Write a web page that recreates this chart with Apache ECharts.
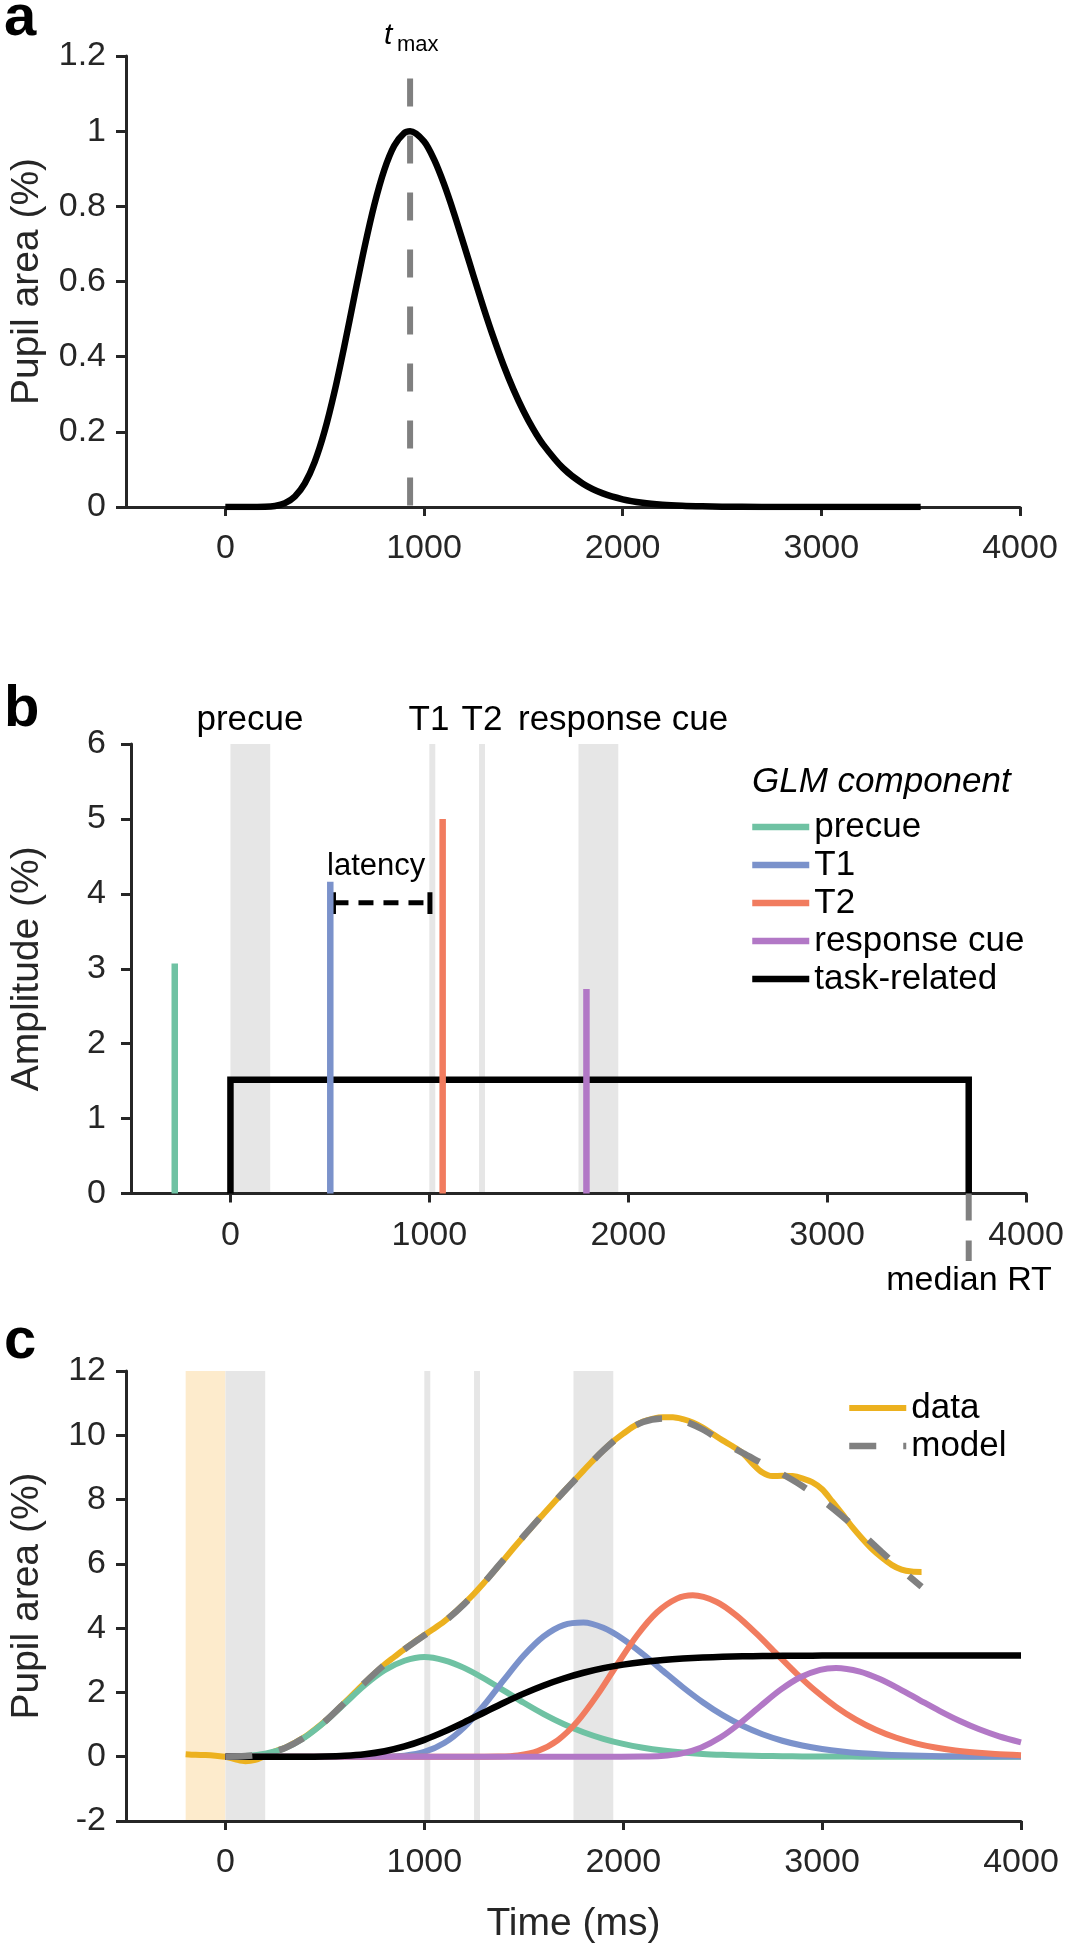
<!DOCTYPE html>
<html>
<head>
<meta charset="utf-8">
<script src="https://cdn.jsdelivr.net/npm/echarts@6.0.0/dist/echarts.min.js"></script>
<style>
    html, body { margin: 0; padding: 0; background: #fff; }
    #chart { width: 1073px; height: 1950px; }
</style>
</head>
<body>
<div id="chart"></div>
<script>
const FONT = '"Liberation Sans", Arial, Helvetica, sans-serif';
const INK = '#262626';

// ---- shared axis ticks (ms)
const timeTicks = [0, 1000, 2000, 3000, 4000];

// ---- panel a: pupil response function
const hrfTime = [0, 100, 200, 250, 300, 350, 400, 450, 500, 550, 600, 650, 700, 750, 800, 850, 900, 930, 1000, 1050,
    1100, 1150, 1200, 1250, 1300, 1350, 1400, 1450, 1500, 1550, 1600, 1700, 1800, 1900, 2000, 2100, 2200, 2300, 2400, 2500,
    2700, 3000, 3500];
const hrfValue = [0, 0, 0.0005, 0.0028, 0.0102, 0.0281, 0.063, 0.1202, 0.2023, 0.3078, 0.4307, 0.5615, 0.6896, 0.8043, 0.8967, 0.9611, 0.9946, 1, 0.9731, 0.9254,
    0.8602, 0.7832, 0.6992, 0.6137, 0.5297, 0.4506, 0.3779, 0.313, 0.2562, 0.2072, 0.166, 0.1033, 0.0621, 0.0362, 0.0205, 0.0113, 0.0061, 0.0032, 0.0017, 0.0009,
    0.0002, 0, 0];
const tMax = 930;
const tMaxLineTop = 1.14;

// ---- panel b: GLM regressors
const eventName = ['precue', 'T1', 'T2', 'response cue'];
const eventTime = [-280, 502, 1067, 1790];
const eventAmp = [3.07, 4.16, 5.0, 2.73];
const taskOnset = 0;
const medianRT = 3712;
const taskAmp = 1.52;
const latencyFrom = 518;
const latencyTo = 1003;
const latencyLevel = 3.88;

// stimulus windows (ms)
const windowStart = [0, 1000, 1250, 1750];
const windowEnd = [200, 1030, 1280, 1950];
const baselineStart = -200;
const baselineEnd = 0;

// ---- panel c: components, model and data
const compTime = [0, 100, 200, 300, 400, 500, 600, 700, 800, 900, 1000, 1100, 1200, 1300, 1400, 1500, 1600, 1700, 1800, 1900,
    2000, 2100, 2200, 2300, 2400, 2500, 2600, 2700, 2800, 2900, 3000, 3100, 3200, 3300, 3400, 3500, 3600, 3700, 3800, 3900, 4000];
const precueComp = [0.002, 0.021, 0.093, 0.274, 0.606, 1.086, 1.656, 2.222, 2.688, 2.985, 3.1, 2.998, 2.764, 2.433, 2.058, 1.678, 1.326, 1.018, 0.762, 0.557,
    0.398, 0.28, 0.193, 0.131, 0.087, 0.058, 0.037, 0.024, 0.015, 0.01, 0.006, 0.004, 0.002, 0.001, 0, 0, 0, 0, 0, 0, 0];
const t1Comp = [0, 0, 0, 0, 0, 0, 0, 0, 0.004, 0.034, 0.148, 0.425, 0.915, 1.601, 2.39, 3.147, 3.743, 4.095, 4.175, 4.009,
    3.656, 3.187, 2.671, 2.161, 1.695, 1.292, 0.961, 0.698, 0.497, 0.347, 0.238, 0.161, 0.107, 0.07, 0.046, 0.029, 0.018, 0.012, 0.007, 0.004, 0.003];
const taskComp = [0, 0, 0, 0, 0.002, 0.008, 0.03, 0.079, 0.172, 0.32, 0.525, 0.78, 1.07, 1.376, 1.679, 1.963, 2.216, 2.433, 2.612, 2.755,
    2.865, 2.949, 3.01, 3.054, 3.085, 3.107, 3.122, 3.132, 3.138, 3.143, 3.146, 3.147, 3.148, 3.149, 3.149, 3.15, 3.15, 3.15, 3.15, 3.15, 3.15];
const t2Time = [0, 1270, 1370, 1470, 1570, 1670, 1770, 1870, 1970, 2070, 2170, 2270, 2350, 2470, 2570, 2670, 2770, 2870, 2970, 3070,
    3170, 3270, 3370, 3470, 3570, 3670, 3770, 3870, 4000];
const t2Comp = [0, 0, 0.005, 0.041, 0.178, 0.51, 1.099, 1.923, 2.87, 3.78, 4.495, 4.918, 5.02, 4.814, 4.39, 3.827, 3.208, 2.595, 2.035, 1.552,
    1.154, 0.839, 0.597, 0.417, 0.286, 0.193, 0.129, 0.084, 0.048];
const respTime = [0, 1990, 2090, 2190, 2290, 2390, 2490, 2590, 2690, 2790, 2890, 2990, 3070, 3190, 3290, 3390, 3490, 3590, 3690, 3790,
    3890, 4000];
const respComp = [0, 0, 0.003, 0.023, 0.098, 0.28, 0.604, 1.057, 1.578, 2.078, 2.472, 2.704, 2.76, 2.647, 2.414, 2.104, 1.764, 1.427, 1.119, 0.853,
    0.635, 0.448];
const modelValue = [0.002, 0.021, 0.093, 0.274, 0.608, 1.094, 1.686, 2.301, 2.864, 3.339, 3.773, 4.203, 4.749, 5.412, 6.143, 6.87, 7.563, 8.233, 8.895, 9.528,
    10.062, 10.415, 10.526, 10.45, 10.18, 9.793, 9.45, 9.124, 8.791, 8.422, 7.989, 7.491, 6.941, 6.368, 5.808, 5.287];
const dataTime = [-200, -150, -100, -50, 0, 50, 100, 150, 200, 250, 300, 350, 400, 450, 500, 550, 600, 650, 700, 750,
    800, 850, 900, 950, 1000, 1050, 1100, 1150, 1200, 1250, 1300, 1350, 1400, 1450, 1500, 1550, 1600, 1650, 1700, 1750,
    1800, 1850, 1900, 1950, 2000, 2050, 2100, 2150, 2200, 2250, 2300, 2350, 2400, 2450, 2500, 2550, 2600, 2650, 2700, 2750,
    2800, 2850, 2900, 2950, 3000, 3050, 3100, 3150, 3200, 3250, 3300, 3350, 3400, 3450, 3500];
const dataValue = [0.08, 0.06, 0.05, 0.03, 0, -0.08, -0.14, -0.1, 0.03, 0.17, 0.28, 0.44, 0.62, 0.85, 1.1, 1.38, 1.69, 1.99, 2.3, 2.59,
    2.87, 3.11, 3.35, 3.57, 3.79, 3.99, 4.21, 4.47, 4.76, 5.07, 5.41, 5.77, 6.13, 6.5, 6.86, 7.22, 7.56, 7.9, 8.24, 8.57,
    8.9, 9.23, 9.53, 9.81, 10.05, 10.27, 10.43, 10.52, 10.56, 10.56, 10.5, 10.4, 10.24, 10.04, 9.84, 9.66, 9.45, 9.12, 8.84, 8.73,
    8.74, 8.73, 8.66, 8.54, 8.32, 7.95, 7.56, 7.16, 6.8, 6.47, 6.2, 5.97, 5.82, 5.76, 5.75];

const COLOR = {
    precue: '#6fc2a3',
    T1: '#7b92cb',
    T2: '#f17c5f',
    resp: '#b278c6',
    data: '#ecb11f',
    dash: '#808080',
    shade: '#e6e6e6',
    baseline: '#fdebcc',
};
const eventColor = [COLOR.precue, COLOR.T1, COLOR.T2, COLOR.resp];

const pairs = (xs, ys) => ys.map((y, i) => [xs[i], y]);

function lineSeries(name, idx, data, color, width, extra) {
    return Object.assign({
        name,
        type: 'line',
        xAxisIndex: idx,
        yAxisIndex: idx,
        data,
        symbol: 'none',
        z: 3,
        silent: true,
        animation: false,
        lineStyle: { color, width, cap: 'butt', join: 'miter' },
        itemStyle: { color },
    }, extra || {});
}

function shadeSeries(idx, items) {
    return {
        type: 'custom',
        xAxisIndex: idx,
        yAxisIndex: idx,
        z: 1,
        silent: true,
        animation: false,
        encode: { x: [0, 1] },
        data: items,
        renderItem: (params, api) => {
            const cs = params.coordSys;
            const x0 = api.coord([api.value(0), 0])[0];
            const x1 = api.coord([api.value(1), 0])[0];
            return {
                type: 'rect',
                shape: { x: x0, y: cs.y, width: x1 - x0, height: cs.height },
                style: { fill: api.visual('color') },
            };
        },
    };
}

const windowItems = windowStart.map((s, i) => ({ value: [s, windowEnd[i]], itemStyle: { color: COLOR.shade } }));

function xAxis(grid, extra) {
    return Object.assign({
        type: 'value',
        gridIndex: grid,
        min: -500,
        max: 4000,
        z: 2,
        axisLine: { onZero: false, lineStyle: { color: INK, width: 3 } },
        axisTick: { customValues: timeTicks, length: 9, lineStyle: { color: INK, width: 3 } },
        axisLabel: {
            customValues: timeTicks,
            margin: 25,
            fontSize: 34,
            color: INK,
            fontFamily: FONT,
            formatter: v => String(v),
        },
        splitLine: { show: false },
    }, extra || {});
}

function yAxis(grid, min, max, interval, name, gap, labelMargin) {
    return {
        type: 'value',
        gridIndex: grid,
        min,
        max,
        interval,
        z: 2,
        name,
        nameLocation: 'middle',
        nameGap: gap,
        nameTextStyle: { fontSize: 39, color: INK, fontFamily: FONT },
        axisLine: { show: true, onZero: false, lineStyle: { color: INK, width: 3 } },
        axisTick: { show: true, length: 10, lineStyle: { color: INK, width: 3 } },
        axisLabel: { margin: labelMargin, fontSize: 34, color: INK, fontFamily: FONT },
        splitLine: { show: false },
    };
}

function text(str, x, y, size, opts) {
    const o = opts || {};
    return {
        type: 'text',
        x,
        y,
        silent: true,
        style: {
            text: str,
            font: `${o.style || ''} ${o.weight || ''} ${size}px ${FONT}`,
            fill: o.fill || '#000',
            textAlign: o.align || 'left',
            textVerticalAlign: 'middle',
        },
    };
}

const legendBase = {
    orient: 'vertical',
    padding: 0,
    itemGap: 0,
    itemWidth: 57,
    itemHeight: 14,
    selectedMode: false,
    textStyle: { fontSize: 35, lineHeight: 38, color: '#000', fontFamily: FONT },
    lineStyle: { width: 'inherit' },
    itemStyle: { opacity: 0 },
};

const series = [];

// panel a
series.push(lineSeries('pupil response', 0, pairs(hrfTime, hrfValue), '#000', 6.5, { smooth: 0.3 }));
series.push(lineSeries('t max', 0, [[tMax, tMaxLineTop], [tMax, 0]], COLOR.dash, 6, {
    z: 4,
    lineStyle: { color: COLOR.dash, width: 6, type: [28, 29], cap: 'butt' },
}));

// panel b
series.push(shadeSeries(1, windowItems));
series.push(lineSeries('task-related', 1, [[taskOnset, 0], [taskOnset, taskAmp], [medianRT, taskAmp], [medianRT, 0]], '#000', 6.5));
eventName.forEach((name, i) => {
    series.push(lineSeries(name, 1, [[eventTime[i], 0], [eventTime[i], eventAmp[i]]], eventColor[i], 6.5, { z: 4 }));
});
series.push(lineSeries('latency', 1, [[latencyFrom, latencyLevel], [latencyTo, latencyLevel]], '#000', 5, {
    lineStyle: { color: '#000', width: 5, type: [15, 10], cap: 'butt' },
}));
series.push(lineSeries('latency start', 1, [[latencyFrom, 3.73], [latencyFrom, 4.02]], '#000', 5));
series.push(lineSeries('latency end', 1, [[latencyTo, 3.73], [latencyTo, 4.02]], '#000', 5));
series.push(lineSeries('median RT', 1, [[medianRT, 0], [medianRT, -0.9]], COLOR.dash, 6, {
    clip: false,
    lineStyle: { color: COLOR.dash, width: 6, type: [27, 20], cap: 'butt' },
}));

// panel c
series.push(shadeSeries(2, [{ value: [baselineStart, baselineEnd], itemStyle: { color: COLOR.baseline } }].concat(windowItems)));
series.push(lineSeries('data', 2, pairs(dataTime, dataValue), COLOR.data, 6, { smooth: 0.3 }));
series.push(lineSeries('precue component', 2, pairs(compTime, precueComp), COLOR.precue, 6, { smooth: 0.3 }));
series.push(lineSeries('T1 component', 2, pairs(compTime, t1Comp), COLOR.T1, 6, { smooth: 0.3 }));
series.push(lineSeries('T2 component', 2, pairs(t2Time, t2Comp), COLOR.T2, 6, { smooth: 0.3 }));
series.push(lineSeries('response cue component', 2, pairs(respTime, respComp), COLOR.resp, 6, { smooth: 0.3 }));
series.push(lineSeries('task-related component', 2, pairs(compTime, taskComp), '#000', 6.5, { smooth: 0.3 }));
series.push(lineSeries('model', 2, pairs(compTime, modelValue), COLOR.dash, 6.5, {
    smooth: 0.3,
    z: 5,
    lineStyle: { color: COLOR.dash, width: 6.5, type: [27, 27], cap: 'butt' },
}));

const option = {
    animation: false,
    backgroundColor: '#fff',
    textStyle: { fontFamily: FONT },
    grid: [
        { left: 120, top: 56, width: 900, height: 451 },
        { left: 125, top: 744, width: 901, height: 449.5 },
        { left: 120, top: 1371, width: 901, height: 450 },
    ],
    xAxis: [
        xAxis(0),
        xAxis(1),
        xAxis(2, {
            name: 'Time (ms)',
            nameLocation: 'middle',
            nameGap: 84,
            nameTextStyle: { fontSize: 39, color: INK, fontFamily: FONT },
        }),
    ],
    yAxis: [
        yAxis(0, 0, 1.2, 0.2, 'Pupil area (%)', 79, 20),
        yAxis(1, 0, 6, 1, 'Amplitude (%)', 84, 25),
        yAxis(2, -2, 12, 2, 'Pupil area (%)', 79, 20),
    ],
    legend: [
        Object.assign({}, legendBase, {
            data: eventName.concat(['task-related']),
            left: 749,
            top: 808,
        }),
        Object.assign({}, legendBase, {
            data: ['data', 'model'],
            left: 846,
            top: 1389,
        }),
    ],
    graphic: {
        elements: [
            text('a', 4, 19, 58, { weight: 'bold' }),
            text('b', 4, 710, 58, { weight: 'bold' }),
            text('c', 4, 1342, 58, { weight: 'bold' }),
            text('t', 384, 36, 30, { style: 'italic' }),
            text('max', 397, 45, 22),
            text('precue', 250, 720, 35, { align: 'center' }),
            text('T1', 429, 720, 35, { align: 'center' }),
            text('T2', 482, 720, 35, { align: 'center' }),
            text('response cue', 518, 720, 35),
            text('latency', 327, 866, 31),
            text('GLM component', 752, 782, 35, { style: 'italic' }),
            text('median RT', 969, 1281, 34, { align: 'center' }),
        ],
    },
    series,
};

const chart = echarts.init(document.getElementById('chart'), null, { renderer: 'canvas', devicePixelRatio: 1 });
chart.setOption(option);
</script>
</body>
</html>
